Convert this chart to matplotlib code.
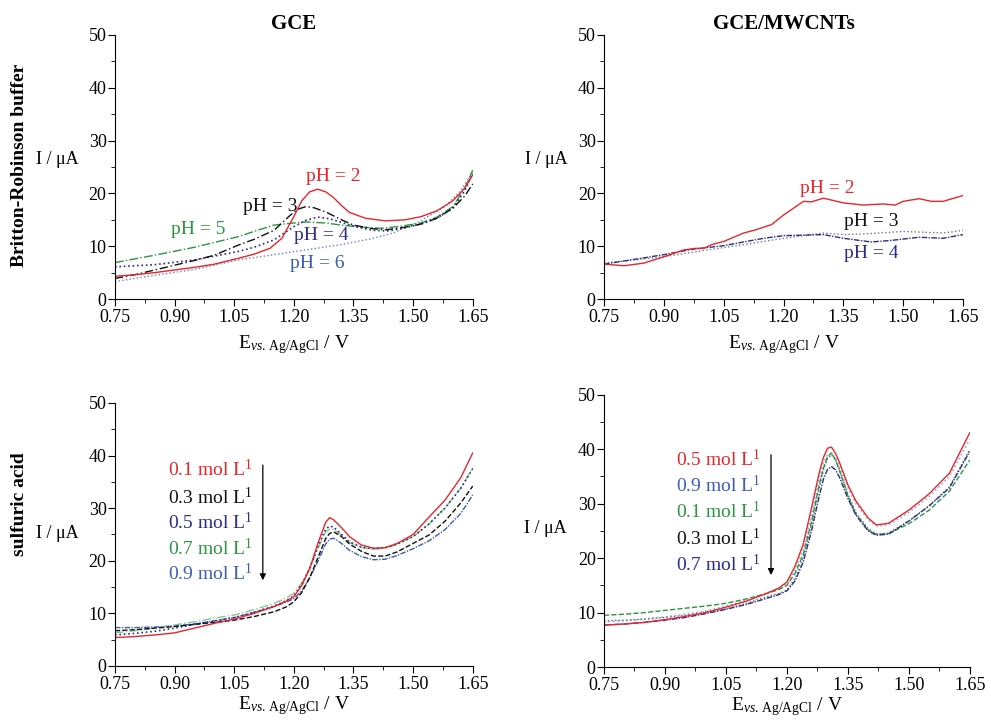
import numpy as np
import matplotlib
matplotlib.use('Agg')
import matplotlib.pyplot as plt
from matplotlib.ticker import MultipleLocator, FormatStrFormatter

plt.rcParams['font.family'] = ['Liberation Serif', 'DejaVu Serif']
plt.rcParams['mathtext.fontset'] = 'custom'
plt.rcParams['mathtext.rm'] = 'Liberation Serif'
plt.rcParams['mathtext.it'] = 'Liberation Serif:italic'

RED = '#e8262a'
BLACK = '#111111'
NAVY = '#2b2b8c'
GREEN = '#2a9640'
BLUE = '#3c5cb4'
LBLUE = '#6b7fcc'

# ---- GCE, Britton-Robinson buffer ----
br_gce_ph2_x = [0.75, 0.80, 0.85, 0.90, 0.95, 1.00, 1.06, 1.10, 1.14, 1.17, 1.20, 1.22, 1.24, 1.26,
                1.28, 1.30, 1.32, 1.34, 1.38, 1.43, 1.48, 1.52, 1.56, 1.60, 1.63, 1.65]
br_gce_ph2_y = [4.3, 4.6, 5.0, 5.5, 6.0, 6.6, 7.7, 8.5, 9.6, 11.5, 15.6, 18.6, 20.3, 20.8,
                20.3, 19.2, 17.7, 16.4, 15.3, 14.8, 15.0, 15.6, 16.7, 18.6, 21.0, 23.5]
br_gce_ph3_x = [0.75, 0.80, 0.85, 0.90, 0.95, 1.00, 1.06, 1.10, 1.15, 1.19, 1.21, 1.23, 1.25,
                1.28, 1.32, 1.35, 1.40, 1.43, 1.48, 1.52, 1.56, 1.60, 1.63, 1.65]
br_gce_ph3_y = [3.9, 4.6, 5.5, 6.4, 7.3, 8.3, 10.2, 11.3, 13.0, 15.8, 17.0, 17.5, 17.3,
                16.5, 15.0, 14.0, 13.3, 13.1, 13.6, 14.2, 15.3, 17.2, 19.5, 21.8]
br_gce_ph4_x = [0.75, 0.85, 0.95, 1.06, 1.10, 1.15, 1.20, 1.23, 1.26, 1.29, 1.32, 1.36, 1.40,
                1.44, 1.48, 1.52, 1.56, 1.60, 1.63, 1.65]
br_gce_ph4_y = [6.1, 6.5, 7.4, 9.0, 9.8, 11.2, 13.7, 14.9, 15.5, 15.2, 14.5, 13.6, 13.0,
                12.9, 13.5, 14.2, 15.3, 17.2, 20.5, 23.8]
br_gce_ph5_x = [0.75, 0.85, 0.95, 1.06, 1.10, 1.15, 1.20, 1.23, 1.28, 1.32, 1.37, 1.42, 1.47,
                1.52, 1.56, 1.60, 1.63, 1.65]
br_gce_ph5_y = [6.9, 8.3, 9.8, 11.8, 12.8, 14.0, 14.4, 14.6, 14.4, 14.0, 13.6, 13.4, 13.8,
                14.4, 15.5, 17.5, 21.0, 24.4]
br_gce_ph6_x = [0.75, 0.85, 0.95, 1.06, 1.15, 1.23, 1.32, 1.40, 1.45, 1.48, 1.52, 1.55, 1.58, 1.62, 1.65]
br_gce_ph6_y = [3.3, 4.5, 5.6, 7.4, 8.4, 9.3, 10.3, 11.5, 12.5, 13.5, 14.8, 16.2, 17.5, 20.5, 24.1]

# ---- GCE/MWCNTs, Britton-Robinson buffer ----
br_cnt_ph2_x = [0.75, 0.80, 0.85, 0.90, 0.95, 0.98, 1.00, 1.02, 1.05, 1.10, 1.13, 1.17, 1.20,
                1.25, 1.27, 1.30, 1.35, 1.40, 1.45, 1.48, 1.50, 1.54, 1.57, 1.60, 1.65]
br_cnt_ph2_y = [6.6, 6.3, 6.8, 8.0, 9.3, 9.6, 9.6, 10.3, 10.9, 12.5, 13.1, 14.1, 15.9,
                18.5, 18.4, 19.1, 18.2, 17.8, 18.0, 17.8, 18.5, 19.0, 18.5, 18.5, 19.6]
br_cnt_ph3_x = [0.75, 0.90, 1.00, 1.10, 1.20, 1.30, 1.35, 1.40, 1.50, 1.60, 1.65]
br_cnt_ph3_y = [6.8, 8.0, 9.2, 10.3, 11.5, 12.5, 12.2, 12.3, 12.8, 12.5, 13.0]
br_cnt_ph4_x = [0.75, 0.90, 0.97, 1.05, 1.15, 1.20, 1.30, 1.35, 1.42, 1.47, 1.54, 1.60, 1.65]
br_cnt_ph4_y = [6.6, 8.4, 9.4, 10.1, 11.5, 12.0, 12.2, 11.5, 10.8, 11.1, 11.7, 11.5, 12.2]

# ---- GCE, sulfuric acid ----
sa_gce_x = [0.75, 0.80, 0.85, 0.90, 0.95, 1.00, 1.05, 1.10, 1.15, 1.18, 1.20, 1.22, 1.24, 1.26,
            1.28, 1.29, 1.30, 1.32, 1.34, 1.37, 1.40, 1.43, 1.46, 1.50, 1.54, 1.58, 1.62, 1.65]
sa_gce_01 = [5.4, 5.6, 5.9, 6.3, 7.2, 8.1, 8.9, 10.0, 11.3, 12.3, 13.2, 15.3, 18.5, 23.2,
             27.3, 28.2, 27.8, 26.3, 24.6, 23.0, 22.4, 22.5, 23.3, 25.0, 28.3, 31.5, 35.8, 40.5]
sa_gce_03 = [6.7, 6.9, 7.2, 7.5, 7.9, 8.3, 8.7, 9.4, 10.3, 11.2, 12.2, 14.0, 16.8, 20.5,
             24.2, 25.2, 25.5, 24.6, 23.2, 21.8, 20.9, 20.9, 21.7, 23.3, 24.9, 27.5, 31.0, 34.2]
sa_gce_05 = [5.9, 6.2, 6.6, 7.2, 7.9, 8.5, 9.2, 10.2, 11.4, 12.4, 13.3, 15.5, 18.6, 22.6,
             26.0, 26.6, 26.4, 25.0, 23.6, 22.6, 22.3, 22.5, 23.2, 24.6, 27.0, 30.0, 33.8, 37.5]
sa_gce_07 = [6.3, 6.7, 7.2, 7.8, 8.4, 9.1, 9.7, 10.7, 11.9, 12.9, 13.8, 15.8, 18.6, 22.2,
             25.5, 26.0, 26.0, 24.8, 23.5, 22.5, 22.2, 22.4, 23.1, 24.6, 27.0, 30.0, 33.8, 37.7]
sa_gce_09 = [7.3, 7.3, 7.4, 7.6, 8.0, 8.6, 9.2, 10.2, 11.3, 12.1, 12.8, 14.3, 16.8, 19.8,
             23.2, 24.1, 24.3, 23.3, 22.0, 20.8, 20.2, 20.3, 21.0, 22.3, 23.8, 25.9, 29.0, 32.5]

# ---- GCE/MWCNTs, sulfuric acid ----
sa_cnt_x = [0.75, 0.80, 0.85, 0.90, 0.95, 1.00, 1.05, 1.10, 1.15, 1.18, 1.20, 1.22, 1.24, 1.26,
            1.28, 1.29, 1.30, 1.31, 1.32, 1.33, 1.35, 1.37, 1.40, 1.42, 1.45, 1.50, 1.55, 1.60, 1.65]
sa_cnt_05 = [7.7, 7.9, 8.2, 8.7, 9.3, 10.0, 11.0, 12.1, 13.5, 14.5, 15.6, 18.5, 22.5, 29.0,
             35.8, 38.5, 40.2, 40.4, 39.2, 37.5, 33.5, 30.5, 27.4, 26.1, 26.4, 28.8, 31.8, 35.6, 43.0]
sa_cnt_09 = [8.3, 8.5, 8.8, 9.2, 9.7, 10.3, 11.2, 12.3, 13.6, 14.4, 15.3, 17.8, 21.6, 27.8,
             34.6, 37.5, 39.0, 39.3, 38.3, 36.8, 33.0, 30.0, 27.1, 25.9, 26.1, 28.4, 31.3, 35.0, 41.8]
sa_cnt_01 = [9.5, 9.7, 10.0, 10.4, 10.8, 11.2, 11.7, 12.5, 13.5, 14.2, 15.0, 17.2, 20.6, 26.5,
             33.5, 36.5, 38.6, 39.3, 38.0, 36.0, 31.5, 28.0, 25.2, 24.4, 24.5, 26.3, 28.8, 32.3, 38.0]
sa_cnt_03 = [8.5, 8.6, 8.8, 9.1, 9.5, 10.1, 10.7, 11.7, 12.9, 13.5, 14.1, 16.3, 20.0, 26.0,
             33.0, 36.2, 38.3, 39.0, 38.0, 36.2, 31.8, 28.4, 25.4, 24.4, 24.6, 26.8, 29.6, 33.1, 39.9]
sa_cnt_07 = [7.7, 7.9, 8.2, 8.6, 9.1, 9.8, 10.6, 11.5, 12.6, 13.3, 14.0, 15.8, 19.2, 24.8,
             31.5, 34.5, 36.3, 36.8, 36.2, 34.8, 31.0, 27.9, 25.0, 24.2, 24.4, 26.8, 29.6, 32.9, 39.6]

mol_gce = ['0.1', '0.3', '0.5', '0.7', '0.9']
mol_cnt = ['0.5', '0.9', '0.1', '0.3', '0.7']

fig = plt.figure(figsize=(9.91, 7.2), dpi=100)
ax_tl = fig.add_axes([0.116, 0.5847, 0.361, 0.3667])
ax_tr = fig.add_axes([0.6095, 0.5847, 0.3623, 0.3667])
ax_bl = fig.add_axes([0.116, 0.075, 0.361, 0.3653])
ax_br = fig.add_axes([0.6095, 0.0736, 0.369, 0.378])

xlab = r'E$_{\mathit{vs.}\,\mathrm{Ag/AgCl}}$ / V'
for ax, ylab_y, lpad in [(ax_tl, 0.53, 5), (ax_tr, 0.53, 5), (ax_bl, 0.505, 1), (ax_br, 0.51, 1)]:
    ax.set_xlim(0.75, 1.65)
    ax.set_ylim(0, 50)
    ax.spines['top'].set_visible(False)
    ax.spines['right'].set_visible(False)
    ax.xaxis.set_major_locator(MultipleLocator(0.15))
    ax.xaxis.set_minor_locator(MultipleLocator(0.075))
    ax.yaxis.set_major_locator(MultipleLocator(10))
    ax.yaxis.set_minor_locator(MultipleLocator(5))
    ax.tick_params(which='major', direction='out', length=5, labelsize=13, pad=1)
    ax.tick_params(axis='x', which='major', pad=2)
    ax.tick_params(which='minor', direction='out', length=3)
    ax.xaxis.set_major_formatter(FormatStrFormatter('%.2f'))
    ax.set_xlabel(xlab, fontsize=14, labelpad=lpad)
    ax.text(-0.16, ylab_y, 'I / \u03bcA', transform=ax.transAxes, fontsize=13,
            ha='center', va='center')

lw = 1.0
# top-left
ax_tl.plot(br_gce_ph6_x, br_gce_ph6_y, color=LBLUE, ls=':', lw=lw)
ax_tl.plot(br_gce_ph5_x, br_gce_ph5_y, color=GREEN, ls='-.', lw=lw)
ax_tl.plot(br_gce_ph4_x, br_gce_ph4_y, color=NAVY, ls=':', lw=lw + 0.2)
ax_tl.plot(br_gce_ph3_x, br_gce_ph3_y, color=BLACK, ls=(0, (6, 2, 1, 2)), lw=lw)
ax_tl.plot(br_gce_ph2_x, br_gce_ph2_y, color=RED, ls='-', lw=lw)
ax_tl.text(1.30, 23.2, 'pH = 2', color=RED, fontsize=14, ha='center', va='center')
ax_tl.text(1.14, 17.5, 'pH = 3', color=BLACK, fontsize=14, ha='center', va='center')
ax_tl.text(0.96, 13.1, 'pH = 5', color=GREEN, fontsize=14, ha='center', va='center')
ax_tl.text(1.27, 12.1, 'pH = 4', color=NAVY, fontsize=14, ha='center', va='center')
ax_tl.text(1.26, 6.8, 'pH = 6', color=BLUE, fontsize=14, ha='center', va='center')
ax_tl.set_title('GCE', fontsize=15, fontweight='bold', pad=4)

# top-right
ax_tr.plot(br_cnt_ph3_x, br_cnt_ph3_y, color='#777777', ls=':', lw=lw)
ax_tr.plot(br_cnt_ph4_x, br_cnt_ph4_y, color=NAVY, ls=(0, (4, 1, 1, 1)), lw=lw)
ax_tr.plot(br_cnt_ph2_x, br_cnt_ph2_y, color=RED, ls='-', lw=lw)
ax_tr.text(1.31, 21.0, 'pH = 2', color=RED, fontsize=14, ha='center', va='center')
ax_tr.text(1.42, 14.6, 'pH = 3', color=BLACK, fontsize=14, ha='center', va='center')
ax_tr.text(1.42, 8.7, 'pH = 4', color=NAVY, fontsize=14, ha='center', va='center')
ax_tr.set_title('GCE/MWCNTs', fontsize=15, fontweight='bold', pad=4)

# bottom-left
ax_bl.plot(sa_gce_x, sa_gce_09, color=BLUE, ls=(0, (4, 1, 1, 1)), lw=lw)
ax_bl.plot(sa_gce_x, sa_gce_07, color='#88c890', ls='-.', lw=lw)
ax_bl.plot(sa_gce_x, sa_gce_05, color=NAVY, ls=':', lw=lw + 0.2)
ax_bl.plot(sa_gce_x, sa_gce_03, color=BLACK, ls='--', lw=lw)
ax_bl.plot(sa_gce_x, sa_gce_01, color=RED, ls='-', lw=lw)
cols_gce = [RED, BLACK, NAVY, GREEN, BLUE]
ys_gce = [37.3, 32.1, 27.2, 22.4, 17.5]
for m, c, yy in zip(mol_gce, cols_gce, ys_gce):
    ax_bl.text(0.883, yy, m + r' mol L$^{\mathrm{1}}$', color=c, fontsize=14, va='center')
ax_bl.annotate('', xy=(1.122, 16.3), xytext=(1.122, 38.2),
               arrowprops=dict(arrowstyle='-|>', color='black', lw=0.9,
                               mutation_scale=9, shrinkA=0, shrinkB=0))

# bottom-right
ax_br.plot(sa_cnt_x, sa_cnt_09, color='#9aa8dc', ls=':', lw=lw + 0.2)
ax_br.plot(sa_cnt_x, sa_cnt_03, color='#666666', ls=':', lw=lw)
ax_br.plot(sa_cnt_x, sa_cnt_01, color=GREEN, ls='--', lw=lw)
ax_br.plot(sa_cnt_x, sa_cnt_07, color=NAVY, ls=(0, (4, 1, 1, 1)), lw=lw)
ax_br.plot(sa_cnt_x, sa_cnt_05, color=RED, ls='-', lw=lw)
cols_cnt = [RED, BLUE, GREEN, BLACK, NAVY]
ys_cnt = [38.2, 33.3, 28.5, 23.7, 18.9]
for m, c, yy in zip(mol_cnt, cols_cnt, ys_cnt):
    ax_br.text(0.927, yy, m + r' mol L$^{\mathrm{1}}$', color=c, fontsize=14, va='center')
ax_br.annotate('', xy=(1.161, 16.9), xytext=(1.161, 39.0),
               arrowprops=dict(arrowstyle='-|>', color='black', lw=0.9,
                               mutation_scale=9, shrinkA=0, shrinkB=0))

# row labels
fig.text(0.02, 0.77, 'Britton-Robinson buffer', rotation=90, fontsize=14,
         fontweight='bold', ha='center', va='center')
fig.text(0.02, 0.30, 'sulfuric acid', rotation=90, fontsize=14,
         fontweight='bold', ha='center', va='center')

fig.savefig('out.png', dpi=100)
